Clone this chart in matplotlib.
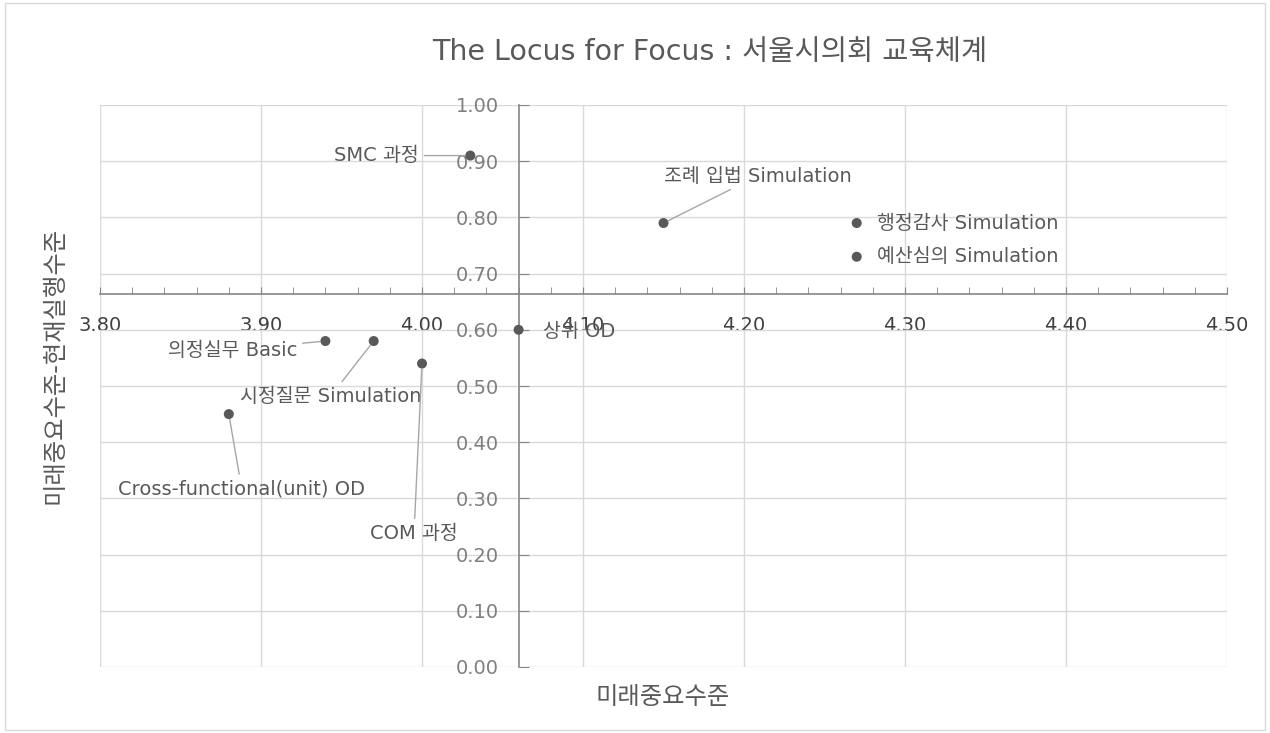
import matplotlib
matplotlib.use("Agg")
import matplotlib.pyplot as plt
from matplotlib.ticker import MultipleLocator, FormatStrFormatter
from matplotlib.patches import Rectangle
import numpy as np

plt.rcParams['font.family'] = ['DejaVu Sans', 'Noto Sans CJK KR']

# ---- data ----
labels = ["SMC 과정", "조례 입법 Simulation", "행정감사 Simulation", "예산심의 Simulation",
          "상위 OD", "의정실무 Basic", "시정질문 Simulation", "COM 과정",
          "Cross-functional(unit) OD"]
future_importance = [4.03, 4.15, 4.27, 4.27, 4.06, 3.94, 3.97, 4.00, 3.88]
gap = [0.91, 0.79, 0.79, 0.73, 0.60, 0.58, 0.58, 0.54, 0.45]
x_ticks = [3.80, 3.90, 4.00, 4.10, 4.20, 4.30, 4.40, 4.50]
y_ticks = [0.00, 0.10, 0.20, 0.30, 0.40, 0.50, 0.60, 0.70, 0.80, 0.90, 1.00]
x_cross = 4.06                    # vertical axis crosses here
y_cross = float(np.mean(gap))     # horizontal axis crosses at the mean gap

# label placement (pixel offsets from point, alignment, leader line)
label_offsets = [(-94, 0, 'center', True), (94, 47, 'center', True), (20, 0, 'left', False),
                 (20, 0, 'left', False), (24, -2, 'left', False), (-93, -9, 'center', True),
                 (-43, -55, 'center', True), (-8, -170, 'center', True), (13, -75, 'center', True)]

TEXT = '#595959'
GRID = '#d9d9d9'
AXIS = '#868686'

fig = plt.figure(figsize=(12.70, 7.33), dpi=100)
fig.patches.append(Rectangle((0.004, 0.004), 0.992, 0.992, transform=fig.transFigure,
                             fill=False, edgecolor=GRID, lw=1.0))
ax = fig.add_axes([100/1270, 1-667/733, (1227-100)/1270, (667-105)/733])

ax.set_xlim(x_ticks[0], x_ticks[-1])
ax.set_ylim(y_ticks[0], y_ticks[-1])
ax.set_xticks(x_ticks)
ax.set_yticks(y_ticks)
ax.xaxis.set_minor_locator(MultipleLocator(0.02))
ax.xaxis.set_major_formatter(FormatStrFormatter('%.2f'))
ax.yaxis.set_major_formatter(FormatStrFormatter('%.2f'))

ax.grid(True, which='major', color=GRID, lw=1.0)
ax.set_axisbelow(True)

ax.spines['left'].set_position(('data', x_cross))
ax.spines['bottom'].set_position(('data', y_cross))
ax.spines['top'].set_visible(False)
ax.spines['right'].set_visible(False)
for s in ('left', 'bottom'):
    ax.spines[s].set_color(AXIS)
    ax.spines[s].set_linewidth(1.2)

ax.tick_params(axis='x', which='both', direction='in', length=5, color=AXIS,
               labelsize=14, labelcolor='#404040', pad=16)
ax.tick_params(axis='y', which='major', direction='in', length=7, color=AXIS,
               labelsize=14, labelcolor='#7f7f7f', pad=14)

ax.scatter(future_importance, gap, s=52, color=TEXT, zorder=5, edgecolors='none')

for lab, x, y, (dx, dy, ha, line) in zip(labels, future_importance, gap, label_offsets):
    ax.annotate(lab, xy=(x, y), xytext=(dx, dy), textcoords='offset pixels',
                ha=ha, va='center', fontsize=14, color=TEXT, zorder=6,
                arrowprops=dict(arrowstyle='-', color='#a6a6a6', lw=1.0,
                                shrinkA=2, shrinkB=4) if line else None)

fig.text(710/1270, 1-52/733, "The Locus for Focus : 서울시의회 교육체계",
         ha='center', va='center', fontsize=20.5, color=TEXT)
fig.text(663/1270, 1-697/733, "미래중요수준", ha='center', va='center',
         fontsize=17.5, color=TEXT)
fig.text(55/1270, 1-365/733, "미래중요수준-현재실행수준", ha='center', va='center',
         rotation=90, fontsize=17.5, color=TEXT)

fig.savefig("out.png", dpi=100, facecolor='white')
